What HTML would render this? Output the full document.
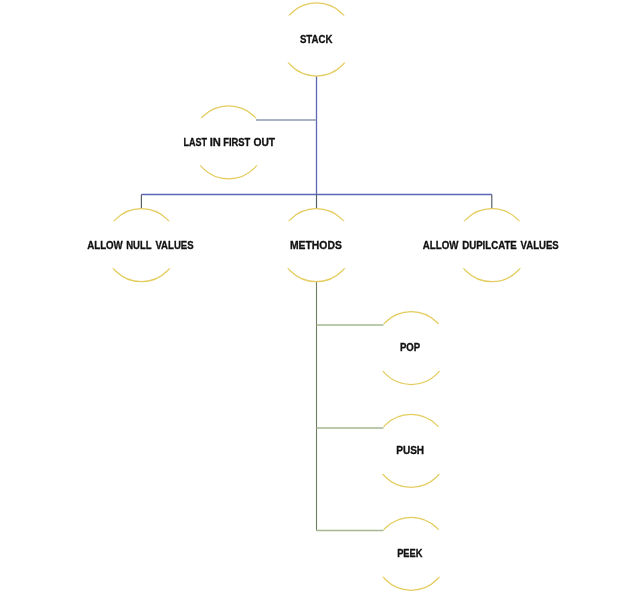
<!DOCTYPE html>
<html><head><meta charset="utf-8"><style>
html,body{margin:0;padding:0;background:#fff;}
body{width:632px;height:594px;overflow:hidden;}
svg{display:block;will-change:transform;}
text{font-family:"Liberation Sans",sans-serif;font-weight:bold;font-size:10.45px;fill:#111;stroke:#111;stroke-width:0.3px;}
</style></head><body>
<svg width="632" height="594" viewBox="0 0 632 594">
<defs>
<clipPath id="c0"><rect x="0" y="0" width="632" height="15.50"/><rect x="0" y="62.50" width="632" height="531.50"/></clipPath>
<clipPath id="c1"><rect x="0" y="0" width="632" height="118.35"/><rect x="0" y="165.35" width="632" height="428.65"/></clipPath>
<clipPath id="c2"><rect x="0" y="0" width="632" height="221.20"/><rect x="0" y="268.20" width="632" height="325.80"/></clipPath>
<clipPath id="c3"><rect x="0" y="0" width="632" height="221.20"/><rect x="0" y="268.20" width="632" height="325.80"/></clipPath>
<clipPath id="c4"><rect x="0" y="0" width="632" height="221.20"/><rect x="0" y="268.20" width="632" height="325.80"/></clipPath>
<clipPath id="c5"><rect x="0" y="0" width="632" height="324.05"/><rect x="0" y="371.05" width="632" height="222.95"/></clipPath>
<clipPath id="c6"><rect x="0" y="0" width="632" height="426.90"/><rect x="0" y="473.90" width="632" height="120.10"/></clipPath>
<clipPath id="c7"><rect x="0" y="0" width="632" height="529.75"/><rect x="0" y="576.75" width="632" height="17.25"/></clipPath>
</defs>
<line x1="316.5" y1="76.00" x2="316.5" y2="194.5" stroke="#5C68B6" stroke-width="1.3"/>
<line x1="256" y1="120" x2="316.5" y2="120" stroke="#8E9AB2" stroke-width="1.5"/>
<line x1="141.4" y1="194.5" x2="491.8" y2="194.5" stroke="#5C68B6" stroke-width="1.3"/>
<line x1="141.4" y1="194.5" x2="141.4" y2="208.70" stroke="#58606A" stroke-width="1.2"/>
<line x1="316.5" y1="194.5" x2="316.5" y2="208.70" stroke="#58606A" stroke-width="1.2"/>
<line x1="491.8" y1="194.5" x2="491.8" y2="208.70" stroke="#58606A" stroke-width="1.2"/>
<line x1="316.5" y1="281.70" x2="316.5" y2="530.5" stroke="#6F7D62" stroke-width="1.1"/>
<line x1="316.5" y1="325.0" x2="383.5" y2="325.0" stroke="#A6B890" stroke-width="1.6"/>
<line x1="316.5" y1="428.0" x2="383.5" y2="428.0" stroke="#A6B890" stroke-width="1.6"/>
<line x1="316.5" y1="530.5" x2="383.5" y2="530.5" stroke="#A6B890" stroke-width="1.6"/>
<circle cx="316.5" cy="39.50" r="36.5" fill="none" stroke="#E4CC5E" stroke-width="1.25" clip-path="url(#c0)"/>
<circle cx="228.6" cy="142.35" r="36.5" fill="none" stroke="#E4CC5E" stroke-width="1.25" clip-path="url(#c1)"/>
<circle cx="141.4" cy="245.20" r="36.5" fill="none" stroke="#E4CC5E" stroke-width="1.25" clip-path="url(#c2)"/>
<circle cx="316.3" cy="245.20" r="36.5" fill="none" stroke="#E4CC5E" stroke-width="1.25" clip-path="url(#c3)"/>
<circle cx="491.8" cy="245.20" r="36.5" fill="none" stroke="#E4CC5E" stroke-width="1.25" clip-path="url(#c4)"/>
<circle cx="411.2" cy="348.05" r="36.5" fill="none" stroke="#E4CC5E" stroke-width="1.25" clip-path="url(#c5)"/>
<circle cx="411.0" cy="450.90" r="36.5" fill="none" stroke="#E4CC5E" stroke-width="1.25" clip-path="url(#c6)"/>
<circle cx="411.2" cy="553.75" r="36.5" fill="none" stroke="#E4CC5E" stroke-width="1.25" clip-path="url(#c7)"/>
<text x="316.23" y="42.7" text-anchor="middle" textLength="32.59" lengthAdjust="spacingAndGlyphs">STACK</text>
<text x="195.18" y="146.0" text-anchor="middle" textLength="23.50" lengthAdjust="spacingAndGlyphs">LAST</text>
<text x="215.34" y="146.0" text-anchor="middle" textLength="11.15" lengthAdjust="spacingAndGlyphs">IN</text>
<text x="236.76" y="146.0" text-anchor="middle" textLength="27.23" lengthAdjust="spacingAndGlyphs">FIRST</text>
<text x="264.33" y="146.0" text-anchor="middle" textLength="21.64" lengthAdjust="spacingAndGlyphs">OUT</text>
<text x="105.00" y="249.0" text-anchor="middle" textLength="35.53" lengthAdjust="spacingAndGlyphs">ALLOW</text>
<text x="138.88" y="249.0" text-anchor="middle" textLength="25.42" lengthAdjust="spacingAndGlyphs">NULL</text>
<text x="174.52" y="249.0" text-anchor="middle" textLength="38.15" lengthAdjust="spacingAndGlyphs">VALUES</text>
<text x="315.90" y="249.0" text-anchor="middle" textLength="51.83" lengthAdjust="spacingAndGlyphs">METHODS</text>
<text x="440.63" y="249.0" text-anchor="middle" textLength="35.66" lengthAdjust="spacingAndGlyphs">ALLOW</text>
<text x="489.49" y="249.0" text-anchor="middle" textLength="54.63" lengthAdjust="spacingAndGlyphs">DUPILCATE</text>
<text x="539.64" y="249.0" text-anchor="middle" textLength="38.19" lengthAdjust="spacingAndGlyphs">VALUES</text>
<text x="409.98" y="350.7" text-anchor="middle" textLength="20.17" lengthAdjust="spacingAndGlyphs">POP</text>
<text x="410.17" y="453.7" text-anchor="middle" textLength="27.95" lengthAdjust="spacingAndGlyphs">PUSH</text>
<text x="409.80" y="556.6" text-anchor="middle" textLength="25.34" lengthAdjust="spacingAndGlyphs">PEEK</text>
</svg>
</body></html>
